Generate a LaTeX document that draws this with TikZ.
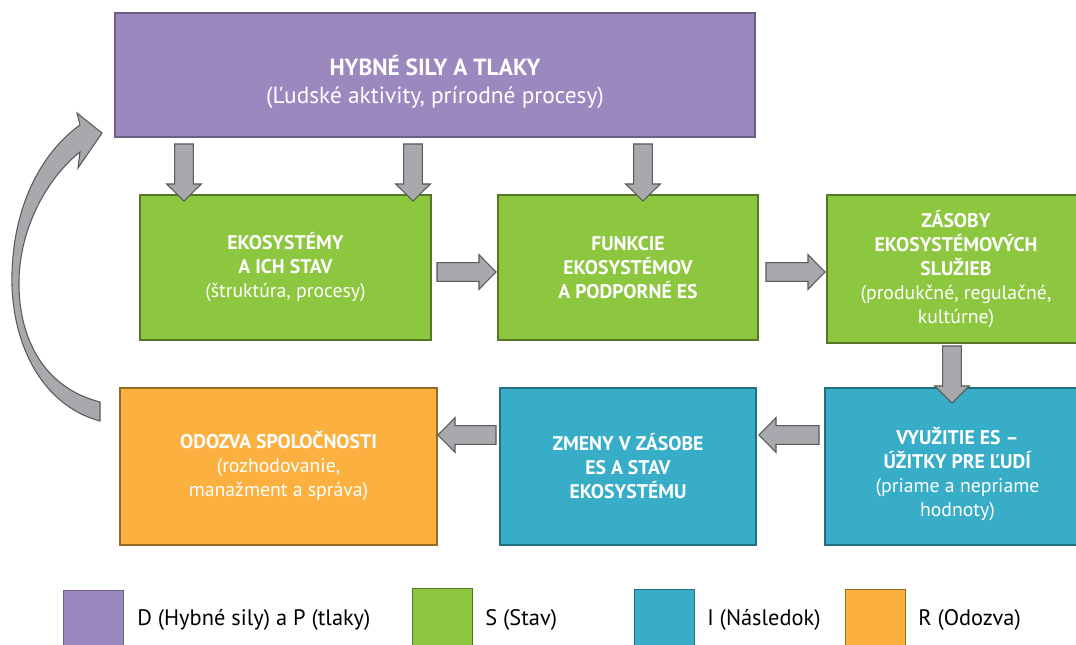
\documentclass[tikz,border=0pt]{standalone}
\usepackage{fontspec}
\setmainfont{PT Sans}
\usetikzlibrary{calc}
\definecolor{dpurple}{HTML}{9B88BF}
\definecolor{dgreen}{HTML}{8DC63F}
\definecolor{dblue}{HTML}{37ADC8}
\definecolor{dorange}{HTML}{FBB040}
\definecolor{arrgray}{HTML}{A7A9AC}
\tikzset{
  box/.style={rectangle, inner sep=0pt, align=center, text=white, line width=1.5pt,
    font=\fontsize{14.8}{18}\selectfont},
  pbox/.style={box, fill=dpurple, draw=dpurple!70!black},
  gbox/.style={box, fill=dgreen, draw=dgreen!60!black},
  bbox/.style={box, fill=dblue, draw=dblue!65!black},
  obox/.style={box, fill=dorange, draw=dorange!60!black},
  barrow/.style={fill=arrgray, draw=black!65, line width=0.8pt, line join=miter},
  legtext/.style={anchor=west, inner sep=0pt, font=\fontsize{16.8}{18}\selectfont}
}
% block arrow from #1 to the tip #2
\newcommand\blockarrow[2]{%
  \coordinate (hb) at ($(#2)!12.75pt!(#1)$);
  \draw[barrow] ($(#1)!7pt!90:(#2)$) -- ($(hb)!7pt!90:(#2)$) -- ($(hb)!13pt!90:(#2)$)
    -- (#2) -- ($(hb)!13pt!-90:(#2)$) -- ($(hb)!7pt!-90:(#2)$) -- ($(#1)!7pt!-90:(#2)$) -- cycle;}

\begin{document}
\begin{tikzpicture}[x=0.75pt, y=-0.75pt]
  \useasboundingbox (0,0) rectangle (1076,645);

  % boxes
  \node[pbox, minimum width=480pt, minimum height=93pt] (hyb) at (435,75)
    {\parbox[c][84pt][c]{460pt}{\centering\vspace*{10.5pt}\fontsize{17.5}{21}\selectfont\textbf{HYBNÉ SILY A TLAKY}\\(Ľudské aktivity, prírodné procesy)}};
  \node[gbox, minimum width=218.25pt, minimum height=108.75pt] (eko) at (285.5,267.5)
    {\textbf{EKOSYSTÉMY}\\\textbf{A ICH STAV}\\(štruktúra, procesy)};
  \node[gbox, minimum width=195pt, minimum height=108.75pt] (fun) at (628,267.5)
    {\textbf{FUNKCIE}\\\textbf{EKOSYSTÉMOV}\\\textbf{A PODPORNÉ ES}};
  \node[gbox, minimum width=193.5pt, minimum height=111pt] (zas) at (956,269)
    {\textbf{ZÁSOBY}\\\textbf{EKOSYSTÉMOVÝCH}\\\textbf{SLUŽIEB}\\(produkčné, regulačné,\\kultúrne)};
  \node[obox, minimum width=237.75pt, minimum height=117.75pt] (odo) at (278.5,466.5)
    {\textbf{ODOZVA SPOLOČNOSTI}\\(rozhodovanie,\\manažment a správa)};
  \node[bbox, minimum width=192pt, minimum height=117.75pt] (zme) at (628,466.5)
    {\textbf{ZMENY V ZÁSOBE}\\\textbf{ES A STAV}\\\textbf{EKOSYSTÉMU}};
  \node[bbox, minimum width=198.75pt, minimum height=117.75pt] (vyu) at (957.5,466.5)
    {\parbox[c][108pt][c]{190pt}{\centering\vspace*{12pt}\textbf{VYUŽITIE ES –}\\\textbf{ÚŽITKY PRE ĽUDÍ}\\(priame a nepriame\\hodnoty)}};

  % arrow ends
  \coordinate (d1s) at ($(hyb.south)+(-251,6)$);
  \coordinate (d1e) at ($(eko.north)+(-101.5,7)$);
  \coordinate (d2s) at ($(hyb.south)+(-22,6)$);
  \coordinate (d2e) at ($(eko.north)+(127.5,7)$);
  \coordinate (d3s) at ($(hyb.south)+(208,6)$);
  \coordinate (d3e) at ($(fun.north)+(15,7)$);
  \coordinate (r1s) at ($(eko.east)+(5,4.5)$);
  \coordinate (r1e) at ($(fun.west)+(-1,4.5)$);
  \coordinate (r2s) at ($(fun.east)+(7,4.5)$);
  \coordinate (r2e) at ($(zas.west)+(-1,3)$);
  \coordinate (d4s) at ($(zas.south)+(-4,2)$);
  \coordinate (d4e) at ($(vyu.north)+(-5.5,16)$);
  \coordinate (l1s) at ($(vyu.west)+(-5,-31.5)$);
  \coordinate (l1e) at ($(zme.east)+(2,-31.5)$);
  \coordinate (l2s) at ($(zme.west)+(-3,-31.5)$);
  \coordinate (l2e) at ($(odo.east)+(0,-31.5)$);

  \blockarrow{d1s}{d1e}
  \blockarrow{d2s}{d2e}
  \blockarrow{d3s}{d3e}
  \blockarrow{r1s}{r1e}
  \blockarrow{r2s}{r2e}
  \blockarrow{d4s}{d4e}
  \blockarrow{l1s}{l1e}
  \blockarrow{l2s}{l2e}

  % curved arrow back to the top
  \draw[barrow] (100,421) .. controls (40,405) and (10,340) .. (12,273)
    .. controls (14,200) and (45,150) .. (80,125) -- (77,113) -- (102,133) -- (78,168) -- (80,152)
    .. controls (45,180) and (20,230) .. (19,280)
    .. controls (18,340) and (45,388) .. (100,402) -- cycle;

  % legend
  \draw[fill=dpurple, draw=dpurple!70!black] (63,590) rectangle (123,660);
  \node[legtext] (lp) at (137,620) {D (Hybné sily) a P (tlaky)};
  \draw[fill=dgreen, draw=dgreen!60!black] (412,588) rectangle (472,660);
  \node[legtext] (lg) at (485,620) {S (Stav)};
  \draw[fill=dblue, draw=dblue!65!black] (634,589) rectangle (694,660);
  \node[legtext] (lb) at (707,620) {I (Následok)};
  \draw[fill=dorange, draw=dorange!60!black] (845,589) rectangle (905,660);
  \node[legtext] (lo) at (918,620) {R (Odozva)};
\end{tikzpicture}
\end{document}
